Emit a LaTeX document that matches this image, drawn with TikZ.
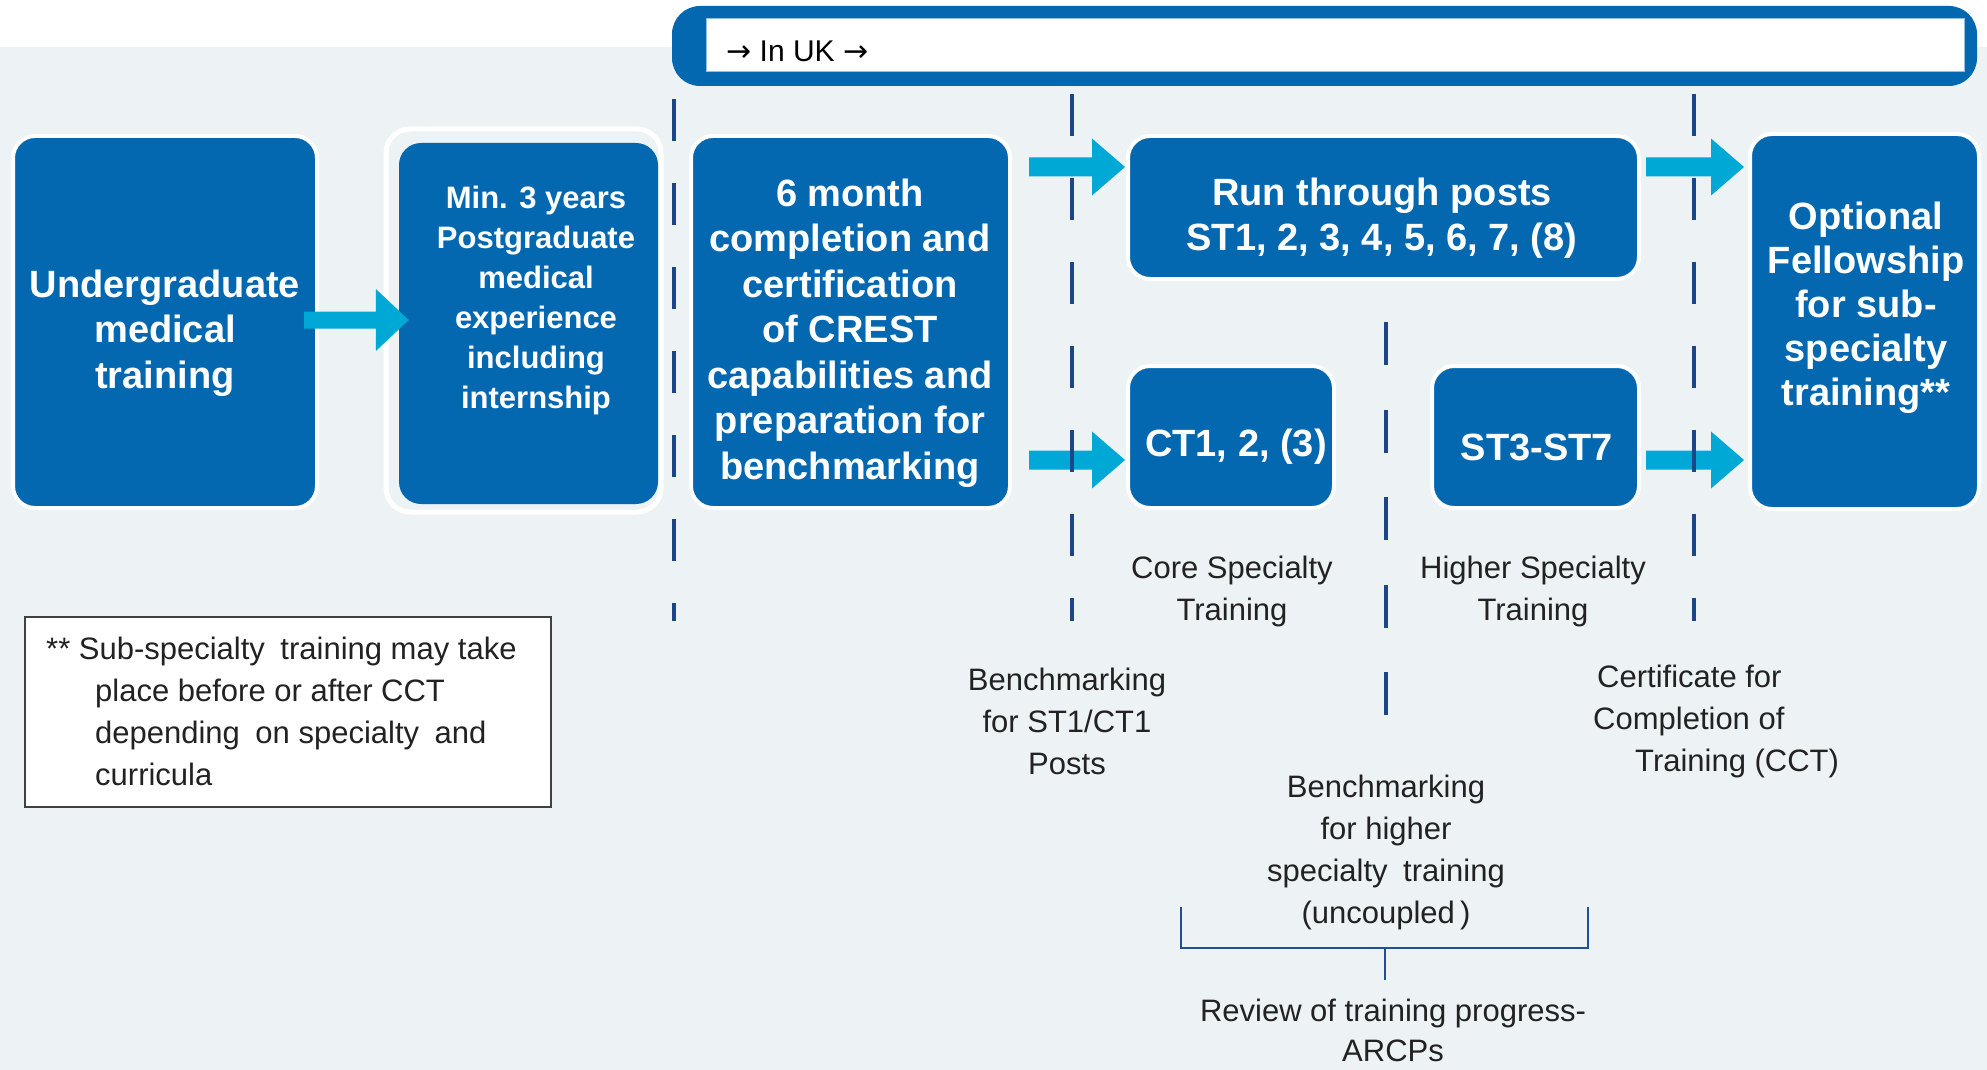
\documentclass[tikz,border=0pt]{standalone}
\usepackage{fontspec}
\setmainfont{Liberation Sans}
\newfontfamily\arrowfont{DejaVu Sans}
\usetikzlibrary{calc}
\definecolor{bgc}{RGB}{237,242,245}
\definecolor{boxblue}{RGB}{4,104,177}
\definecolor{arrowc}{RGB}{0,168,214}
\definecolor{navy}{RGB}{27,71,136}
\definecolor{brk}{RGB}{31,78,154}
\definecolor{txtc}{RGB}{34,34,34}
\definecolor{edgeblue}{RGB}{150,190,225}
\newcommand\blockarrow[5]{%
  \fill[arrowc] let \p1=(#1), \p2=(#2) in
   (\x1,\y1+#3) -- (\x2-#5,\y1+#3) -- (\x2-#5,\y1+#4) -- (\x2,\y1) --
   (\x2-#5,\y1-#4) -- (\x2-#5,\y1-#3) -- (\x1,\y1-#3) -- cycle;}
\begin{document}
\begin{tikzpicture}[x=1pt,y=-1pt,
  bluebox/.style={fill=boxblue, draw=white, line width=4pt, rounded corners=22pt, inner sep=0pt, outer sep=0pt},
  boxtxt/.style={text=white, font=\bfseries\fontsize{38}{45.5}\selectfont, align=center, inner sep=0pt},
  lbl/.style={text=txtc, font=\fontsize{31}{42}\selectfont, align=center, inner sep=0pt},
  dashln/.style={draw=navy, line width=4pt, dash pattern=on 42pt off 42pt}]
\useasboundingbox (0,0) rectangle (1987,1070);
\fill[bgc] (0,0) rectangle (1987,1070);
\fill[white] (0,0) rectangle (1987,47);
% banner
\node[fill=boxblue, rounded corners=28pt, minimum width=1305pt, minimum height=80pt, inner sep=0pt] (banner) at (1324.5,46) {};
\node[fill=white, draw=edgeblue, line width=1pt, minimum width=1258pt, minimum height=53pt, inner sep=0pt] (bannerin) at (1335,45.5) {};
\node[anchor=west, text=black, font=\fontsize{30}{36}\selectfont, inner sep=0pt] (inuk) at (726,51) {{\arrowfont →} In UK {\arrowfont →}};
% boxes
\node[bluebox, minimum width=304pt, minimum height=372pt] (b1) at (165,322) {};
\node[fill=bgc, draw=white, line width=5pt, rounded corners=24pt, minimum width=275pt, minimum height=383pt, inner sep=0pt] (b2out) at (523.5,320.5) {};
\node[fill=boxblue, rounded corners=22pt, minimum width=259pt, minimum height=361pt, inner sep=0pt] (b2in) at (528.5,323.5) {};
\node[bluebox, minimum width=319pt, minimum height=372pt] (b3) at (850.5,322) {};
\node[bluebox, minimum width=511pt, minimum height=143pt] (b4) at (1383.5,207.5) {};
\node[bluebox, minimum width=206pt, minimum height=142pt] (b5) at (1231,437) {};
\node[bluebox, minimum width=207pt, minimum height=142pt] (b6) at (1535.5,437) {};
\node[bluebox, minimum width=229pt, minimum height=375pt] (b7) at (1864.5,321.5) {};
% box texts
\node[boxtxt] (b1t) at (165,333) {Undergraduate\\medical\\training};
\node[boxtxt, font=\bfseries\fontsize{31}{40}\selectfont] (b2t) at (536,300) {Min. 3 years\\Postgraduate\\medical\\experience\\including\\internship};
\node[boxtxt] (b3t) at (850,333) {6 month\\completion and\\certification\\of CREST\\capabilities and\\preparation for\\benchmarking};
\node[boxtxt] (b4t) at (1382,218) {Run through posts\\ST1, 2, 3, 4, 5, 6, 7, (8)};
\node[boxtxt] (b5t) at (1236,447) {CT1, 2, (3)};
\node[boxtxt] (b6t) at (1537,447) {ST3-ST7};
\node[boxtxt, font=\bfseries\fontsize{38}{44}\selectfont] (b7t) at (1866,308) {Optional\\Fellowship\\for sub-\\specialty\\training**};
% arrows
\blockarrow{$(b1.east)+(-13,-2)$}{$(b2in.west)+(10,0)$}{8.5pt}{31pt}{33pt}
\blockarrow{$(b3.east |- b4.north)+(19,31)$}{$(b4.west)+(-3,0)$}{9.5pt}{28.5pt}{33pt}
\blockarrow{$(b3.east |- b5.center)+(19,23)$}{$(b5.west)+(-3,0)$}{9.5pt}{28.5pt}{33pt}
\blockarrow{$(b4.east)+(7,-40.5)$}{$(b7.west)+(-6,0)$}{9.5pt}{28.5pt}{33pt}
\blockarrow{$(b6.east)+(7,23)$}{$(b7.west)+(-6,0)$}{9.5pt}{28.5pt}{33pt}
% dashed separators
\draw[dashln] (674,99) -- (674,621);
\draw[dashln] (1072,94) -- (1072,621);
\draw[dashln] (1694,94) -- (1694,621);
\draw[dashln, dash pattern=on 43pt off 44.5pt] (1386,322) -- (1386,716);
% labels
\node[lbl] (core) at (1232,591) {Core Specialty\\Training};
\node[lbl] (higher) at (1533,591) {Higher Specialty\\Training};
\node[lbl] (bench1) at (1067,721) {Benchmarking\\for ST1/CT1\\Posts};
\node[lbl, align=left, anchor=west] (cct) at (1593,721) {\hspace*{4pt}Certificate for\\Completion of\\\hspace*{42pt}Training (CCT)};
\node[lbl] (bench2) at (1386,852) {Benchmarking\\for higher\\specialty\enspace training\\(uncoupled\,)};
\node[lbl, font=\fontsize{31}{40}\selectfont] (review) at (1393,1030) {Review of training progress-\\ARCPs};
% bracket
\draw[brk, line width=2.5pt] (1181,907) -- (1181,948) -- (1588,948) -- (1588,907);
\draw[brk, line width=2.5pt] (1385,948) -- (1385,980);
% footnote
\node[draw=black!75, fill=white, line width=1.5pt, minimum width=526pt, minimum height=190pt, inner sep=0pt] (note) at (288,712) {};
\node[lbl, align=left, anchor=west] (notet) at (46,711) {** Sub-specialty\enspace training may take\\\hspace*{49pt}place before or after CCT\\\hspace*{49pt}depending\enspace on specialty\enspace and\\\hspace*{49pt}curricula};
\end{tikzpicture}
\end{document}
